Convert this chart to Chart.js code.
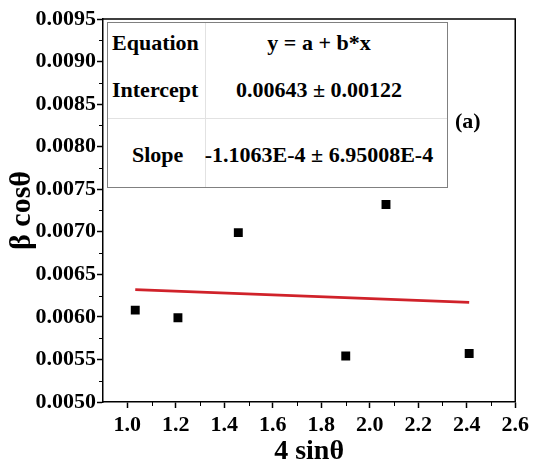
<!DOCTYPE html>
<html>
<head>
<meta charset="utf-8">
<script src="https://cdn.jsdelivr.net/npm/chart.js@4"></script>
<style>
  body { margin: 0; background: #fff; }
  #wrap { position: relative; width: 533px; height: 463px; }
  #wrap canvas { position: absolute; left: 0; top: 0; }
  .t {
    position: absolute;
    font-family: 'Liberation Serif', 'Times New Roman', serif;
    font-weight: bold;
    font-size: 22px;
    line-height: 1;
    white-space: nowrap;
    color: #000;
  }
  .box { position: absolute; border: 1px solid #808080; box-sizing: border-box; background: #fff; }
  .ln { position: absolute; background: #e2e2e2; }
</style>
</head>
<body>
<div id="wrap">
  <canvas id="chart" width="533" height="463"></canvas>
</div>
<script>
// data
const xValues = [1.033, 1.209, 1.458, 1.901, 2.067, 2.41];
const yValues = [0.00608, 0.00599, 0.00699, 0.00554, 0.00732, 0.00557];

// linear fit line (red), ends as drawn
const fitX = [1.033, 2.41];
const fitY = [0.00632, 0.00617];

const xTicks = [1.0, 1.2, 1.4, 1.6, 1.8, 2.0, 2.2, 2.4, 2.6];
const yTicks = [0.0050, 0.0055, 0.0060, 0.0065, 0.0070, 0.0075, 0.0080, 0.0085, 0.0090, 0.0095];
const xMinor = [1.1, 1.3, 1.5, 1.7, 1.9, 2.1, 2.3, 2.5];
const yMinor = [0.00525, 0.00575, 0.00625, 0.00675, 0.00725, 0.00775, 0.00825, 0.00875, 0.00925];

const tableLabels = ['Equation', 'Intercept', 'Slope'];
const tableValues = ['y = a + b*x', '0.00643 \u00b1 0.00122', '-1.1063E-4 \u00b1 6.95008E-4'];
const panelLabel = '(a)';

const FONT = "'Liberation Serif', 'Times New Roman', serif";

// box around the plot + minor ticks
const framePlugin = {
    id: 'frame',
    afterDraw(chart) {
        const { ctx, chartArea: a, scales } = chart;
        ctx.save();
        ctx.strokeStyle = '#000';
        ctx.lineWidth = 1.5;
        ctx.beginPath();
        ctx.moveTo(a.left, a.top);
        ctx.lineTo(a.right, a.top);
        ctx.lineTo(a.right, a.bottom);
        ctx.stroke();

        ctx.lineWidth = 1;
        ctx.beginPath();
        xMinor.forEach(v => {
            const px = Math.round(scales.x.getPixelForValue(v)) + 0.5;
            ctx.moveTo(px, a.bottom);
            ctx.lineTo(px, a.bottom + 4);
        });
        yMinor.forEach(v => {
            const py = Math.round(scales.y.getPixelForValue(v)) + 0.5;
            ctx.moveTo(a.left, py);
            ctx.lineTo(a.left - 4, py);
        });
        ctx.stroke();
        ctx.restore();
    }
};

const chart = new Chart(document.getElementById('chart'), {
    data: {
        datasets: [{
            type: 'scatter',
            data: xValues.map((x, i) => ({ x, y: yValues[i] })),
            pointStyle: 'rect',
            pointRadius: 6.3,
            pointBorderWidth: 0,
            backgroundColor: '#000',
            borderColor: '#000'
        }, {
            type: 'line',
            data: fitX.map((x, i) => ({ x, y: fitY[i] })),
            borderColor: '#d0222a',
            borderWidth: 2.8,
            pointRadius: 0,
            fill: false
        }]
    },
    options: {
        responsive: false,
        animation: false,
        layout: { padding: { top: 19, right: 16, left: 0, bottom: 0 } },
        plugins: { legend: { display: false }, tooltip: { enabled: false } },
        scales: {
            x: {
                type: 'linear',
                min: 0.9,
                max: 2.6,
                afterBuildTicks: s => { s.ticks = xTicks.map(v => ({ value: v })); },
                afterFit: s => { s.height = 61; },
                ticks: {
                    color: '#000',
                    padding: 4,
                    maxRotation: 0,
                    font: { family: FONT, size: 22, weight: 'bold' },
                    callback: v => v.toFixed(1)
                },
                grid: { drawOnChartArea: false, tickLength: 6, tickColor: '#000', tickWidth: 1.5 },
                border: { color: '#000', width: 1.5 },
                title: {
                    display: true,
                    text: '4 sin\u03b8',
                    color: '#000',
                    padding: { top: 0, bottom: 0 },
                    font: { family: FONT, size: 28, weight: 'bold', lineHeight: 0.8 }
                }
            },
            y: {
                type: 'linear',
                min: 0.0050,
                max: 0.0095,
                afterBuildTicks: s => { s.ticks = yTicks.map(v => ({ value: v })); },
                afterFit: s => { s.width = 103; },
                ticks: {
                    color: '#000',
                    padding: 1,
                    font: { family: FONT, size: 22, weight: 'bold' },
                    callback: v => v.toFixed(4)
                },
                grid: { drawOnChartArea: false, tickLength: 6, tickColor: '#000', tickWidth: 1.5 },
                border: { color: '#000', width: 1.5 },
                title: {
                    display: true,
                    text: '\u03b2 cos\u03b8',
                    color: '#000',
                    padding: { top: 4, bottom: 0 },
                    font: { family: FONT, size: 30, weight: 'bold', lineHeight: 1.2 }
                }
            }
        }
    },
    plugins: [framePlugin]
});

// fit-result table drawn over the plot
const wrap = document.getElementById('wrap');
function add(cls, css, text) {
    const el = document.createElement(cls === 't' ? 'span' : 'div');
    el.className = cls;
    Object.assign(el.style, css);
    if (text) el.textContent = text;
    wrap.appendChild(el);
    return el;
}
add('box', { left: '107px', top: '22px', width: '341px', height: '166px' });
add('ln', { left: '205px', top: '23px', width: '1px', height: '164px' });
add('ln', { left: '108px', top: '118px', width: '339px', height: '1px' });

const rowTops = [32, 79, 144];
const labelLeft = [112, 112, 132];
tableLabels.forEach((txt, i) => {
    add('t', { left: labelLeft[i] + 'px', top: rowTops[i] + 'px' }, txt);
});
tableValues.forEach((txt, i) => {
    const el = add('t', { left: '319px', top: rowTops[i] + 'px' }, txt);
    el.style.transform = 'translateX(-50%)';
});
add('t', { left: '455px', top: '110px' }, panelLabel);
</script>
</body>
</html>
